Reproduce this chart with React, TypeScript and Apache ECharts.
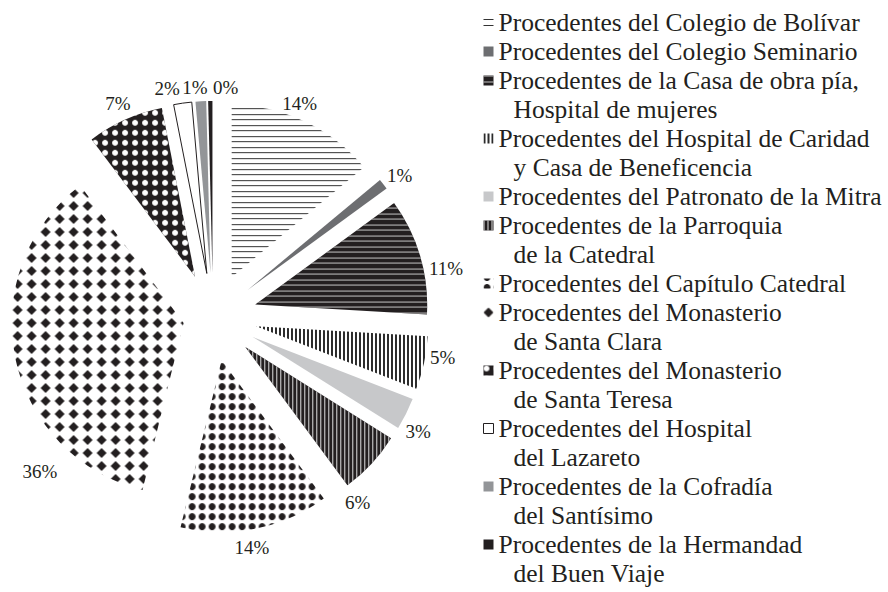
import React, { useEffect, useRef } from 'react';
import * as echarts from 'echarts';

const categories = [
  'Procedentes del Colegio de Bolívar',
  'Procedentes del Colegio Seminario',
  'Procedentes de la Casa de obra pía,\nHospital de mujeres',
  'Procedentes del Hospital de Caridad\ny Casa de Beneficencia',
  'Procedentes del Patronato de la Mitra',
  'Procedentes de la Parroquia\nde la Catedral',
  'Procedentes del Capítulo Catedral',
  'Procedentes del Monasterio\nde Santa Clara',
  'Procedentes del Monasterio\nde Santa Teresa',
  'Procedentes del Hospital\ndel Lazareto',
  'Procedentes de la Cofradía\ndel Santísimo',
  'Procedentes de la Hermandad\ndel Buen Viaje',
];

const values = [14, 1, 11, 5, 3, 6, 14, 36, 7.2, 1.7, 1, 0.4];

// index of the slice that is pulled out less than the others
const lessExploded = [7];

const FONT = '"Liberation Serif", "Times New Roman", serif';
const INK = '#231f20';

const sliceStyles: any[] = [
  { color: '#ffffff', decal: { symbol: 'rect', symbolSize: 1, color: '#333333', dashArrayX: [1, 0], dashArrayY: [1, 4, 1, 5], rotation: 0 } },
  { color: '#6d6e71' },
  { color: INK, decal: { symbol: 'rect', symbolSize: 1, color: '#c4c4c4', dashArrayX: [1, 0], dashArrayY: [1, 5, 1, 4], rotation: 0 } },
  { color: '#ffffff', decal: { symbol: 'rect', symbolSize: 1, color: '#2b2b2b', dashArrayX: [2, 2], dashArrayY: [1, 0], rotation: 0 } },
  { color: '#c7c8ca' },
  { color: INK, decal: { symbol: 'rect', symbolSize: 1, color: '#e0e0e0', dashArrayX: [1, 3], dashArrayY: [1, 0], rotation: 0 } },
  { color: '#ffffff', decal: { symbol: 'circle', symbolSize: 1, color: INK, dashArrayX: [7, 3], dashArrayY: [7, 3], rotation: 0 } },
  { color: '#ffffff', decal: { symbol: 'diamond', symbolSize: 1, color: INK, dashArrayX: [10, 4], dashArrayY: [10, 3], rotation: 0 } },
  { color: INK, decal: { symbol: 'circle', symbolSize: 1, color: '#ffffff', dashArrayX: [6, 4], dashArrayY: [6, 4], rotation: 0 } },
  { color: '#ffffff', borderColor: INK, borderWidth: 1 },
  { color: '#939598' },
  { color: INK },
];

// label offsets from the library's default outside position
const labelNudge: number[][] = [
  [-30, -13], [-6, -5], [-2, 14], [-5, -7], [-11, 15], [-36, 35],
  [-27, 13], [53, 113], [13, -11], [3, -9], [12, -8], [33, -8],
];

const LINE_H = 29;
const ICON_H = 10 + LINE_H;
const ICON_ONE = `path://M0,0M0,${(LINE_H - 10) / 2}h10v10h-10zM10,${LINE_H}`;
const ICON_TWO = `path://M0,0h10v10h-10zM10,${ICON_H}`;

export default function App() {
  const ref = useRef<HTMLDivElement>(null);
  useEffect(() => {
    const chart = echarts.init(ref.current!, null, { renderer: 'svg' });

    const mkData = (visible: (i: number) => boolean) =>
      categories.map((name, i) =>
        visible(i)
          ? { name, value: values[i], selected: true, itemStyle: { borderWidth: 0, ...sliceStyles[i] } }
          : {
              name,
              value: values[i],
              selected: true,
              itemStyle: { color: 'rgba(0,0,0,0)', borderWidth: 0 },
              label: { show: false },
            }
      );

    const common: any = {
      type: 'pie',
      center: [213, 317],
      radius: 172,
      startAngle: 90,
      clockwise: true,
      selectedMode: 'multiple',
      avoidLabelOverlap: false,
      percentPrecision: 0,
      silent: true,
      emphasis: { disabled: true, scale: false },
      label: {
        show: true,
        position: 'outside',
        formatter: '{d}%',
        fontFamily: FONT,
        fontSize: 19,
        color: INK,
      },
      labelLine: { show: false, length: 6, length2: 0 },
      labelLayout: (p: any) => ({ dx: labelNudge[p.dataIndex][0], dy: labelNudge[p.dataIndex][1] }),
    };

    const legendData = categories.map((name, i) => {
      const item: any = { name, icon: name.includes('\n') ? ICON_TWO : ICON_ONE };
      if (lessExploded.includes(i)) item.itemStyle = { color: sliceStyles[i].color, decal: sliceStyles[i].decal };
      if (sliceStyles[i].borderWidth) item.itemStyle = { borderWidth: 1, borderColor: INK };
      return item;
    });

    const textBase = { fontFamily: FONT, fontSize: 25.5, lineHeight: LINE_H, color: INK };

    chart.setOption({
      animation: false,
      backgroundColor: '#ffffff',
      legend: {
        orient: 'vertical',
        left: 483,
        top: 8,
        width: 400,
        height: 640,
        padding: 0,
        itemGap: 0,
        itemWidth: 10,
        itemHeight: ICON_H,
        selectedMode: false,
        data: legendData,
        formatter: (name: string) =>
          name
            .split('\n')
            .map((l, i) => (i === 0 ? `{a|${l}}` : `{b|${l}}`))
            .join('\n'),
        textStyle: {
          ...textBase,
          rich: {
            a: { ...textBase },
            b: { ...textBase, padding: [0, 0, 0, 15] },
          },
        },
      },
      series: [
        { ...common, name: 'A', selectedOffset: 44, data: mkData((i) => !lessExploded.includes(i)) },
        { ...common, name: 'B', selectedOffset: 30, data: mkData((i) => lessExploded.includes(i)) },
      ],
    });

    return () => chart.dispose();
  }, []);

  return <div ref={ref} style={{ position: 'absolute', left: 0, top: 0, width: 888, height: 592 }} />;
}
